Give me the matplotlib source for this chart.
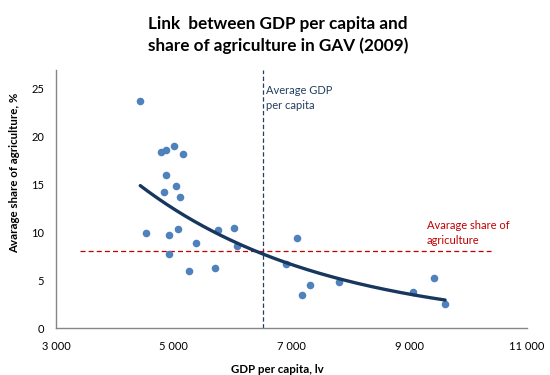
import numpy as np
import matplotlib
matplotlib.use('Agg')
import matplotlib.pyplot as plt
from matplotlib.ticker import FuncFormatter

plt.rcParams['font.family'] = ['Lato', 'DejaVu Sans']

# GDP per capita (lv) and share of agriculture in GAV (%) by district, 2009
gdp = [4432, 4783, 4873, 5009, 5162, 4863, 4839, 5043, 5111, 4534,
       4924, 5077, 5383, 5757, 6028, 6079, 4924, 5264, 5706, 7098,
       6912, 7319, 7183, 7812, 9064, 9426, 9612]
agri = [23.7, 18.4, 18.6, 19.0, 18.1, 16.0, 14.2, 14.8, 13.7, 9.9,
        9.7, 10.3, 8.9, 10.2, 10.4, 8.6, 7.7, 5.9, 6.3, 9.4,
        6.7, 4.5, 3.4, 4.8, 3.8, 5.2, 2.5]

avg_gdp = 6516
avg_agri = 8.0

x_ticks = [3000, 5000, 7000, 9000, 11000]
y_ticks = [0, 5, 10, 15, 20, 25]

fig = plt.figure(figsize=(5.5, 3.75), dpi=100)
ax = fig.add_axes([0.1018, 0.1253, 0.856, 0.688])

ax.scatter(gdp, agri, s=30, color='#4F81BD', zorder=3, linewidths=0)

# exponential trend line, like Excel's
x = np.array(gdp, dtype=float)
y = np.array(agri, dtype=float)
b, ln_a = np.polyfit(x, np.log(y), 1)
xt = np.linspace(x.min(), x.max(), 200)
ax.plot(xt, np.exp(ln_a) * np.exp(b * xt), color='#17375E', lw=2.4,
        solid_capstyle='round', zorder=4)

# average lines
ax.plot([avg_gdp, avg_gdp], [0, 26.9], color='#243F60', lw=0.9,
        dashes=(3.5, 2), zorder=2)
ax.plot([3410, 10400], [avg_agri, avg_agri], color='#C00000', lw=0.9,
        dashes=(4, 2.5), zorder=2)

ax.text(avg_gdp + 60, 25.3, 'Average GDP\nper capita', fontsize=8,
        color='#243F60', va='top', ha='left', linespacing=1.45)
ax.text(9300, 8.5, 'Avarage share of\nagriculture', fontsize=8,
        color='#C00000', va='bottom', ha='left', linespacing=1.45)

ax.set_xlim(3000, 11000)
ax.set_ylim(0, 26.9)
ax.set_xticks(x_ticks)
ax.set_yticks(y_ticks)
ax.xaxis.set_major_formatter(FuncFormatter(lambda v, p: f'{int(v):,}'.replace(',', ' ')))
ax.tick_params(length=0, labelsize=8, colors='black')
ax.tick_params(axis='x', pad=9)
ax.tick_params(axis='y', pad=8.5)

for s in ['top', 'right']:
    ax.spines[s].set_visible(False)
for s in ['left', 'bottom']:
    ax.spines[s].set_color('#868686')
    ax.spines[s].set_linewidth(1)

ax.set_xlabel('GDP per capita, lv', fontsize=8.3, fontweight='bold')
ax.set_ylabel('Avarage share of agriculture, %', fontsize=8.3, fontweight='bold')
ax.xaxis.set_label_coords(0.470, -0.1395)
ax.yaxis.set_label_coords(-0.0764, 0.60)

fig.suptitle('Link  between GDP per capita and\nshare of agriculture in GAV (2009)',
             x=0.505, y=0.958, fontsize=12.3, fontweight='bold', linespacing=1.4)

fig.savefig('out.png', dpi=100)
